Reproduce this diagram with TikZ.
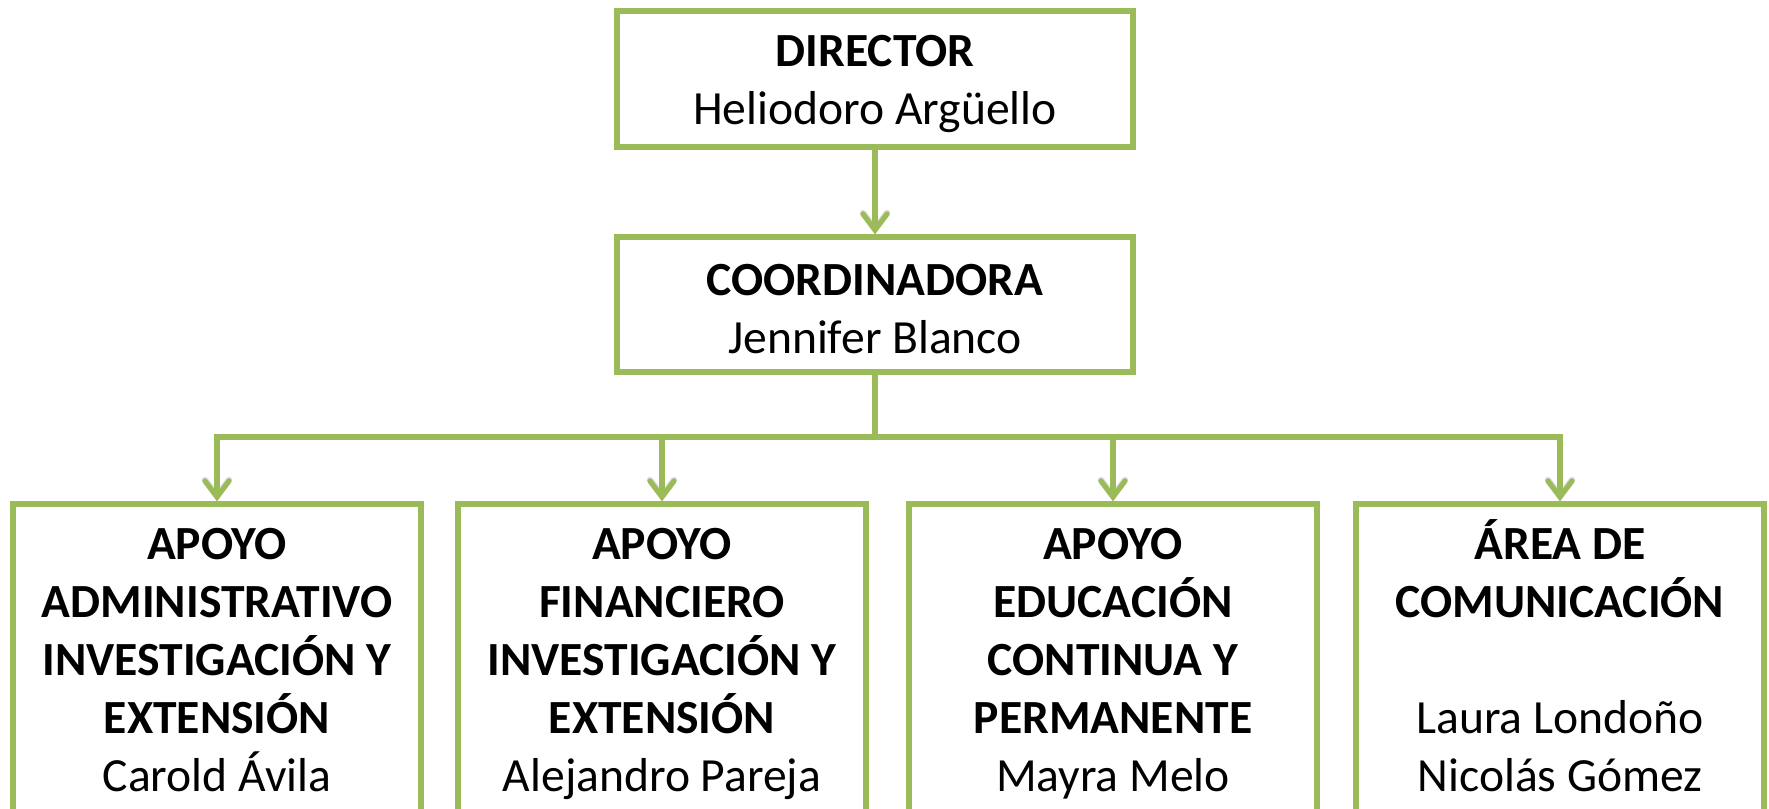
\documentclass[tikz,border=0pt]{standalone}
\usepackage{fontspec}
\setmainfont{Carlito}
\usetikzlibrary{arrows.meta}
\definecolor{ogreen}{HTML}{9BBB59}
\begin{document}
\begin{tikzpicture}[x=0.5pt,y=-0.5pt,
  box/.style={draw=ogreen,line width=2.7pt,minimum width=204pt,inner sep=0pt},
  txt/.style={anchor=north,align=center,inner sep=0pt,font=\fontsize{23.8pt}{29pt}\selectfont},
  conn/.style={draw=ogreen,line width=2.6pt,-{Straight Barb[length=8pt,width=12pt,line cap=round]}},
  shade/.style={draw=black!13,line width=3.2pt,shift={(3,5)},-{Straight Barb[length=8pt,width=12pt,line cap=round]}}]
\useasboundingbox (0,0) rectangle (1769,809);
\clip (0,0) rectangle (1769,809);
% boxes
\node[box,minimum width=258pt,minimum height=68pt] (dir) at (875,79) {};
\node[box,minimum width=258pt,minimum height=67.5pt] (coord) at (875,304.5) {};
\node[box,minimum height=200pt] (b1) at (217,704) {};
\node[box,minimum height=200pt] (b2) at (662,704) {};
\node[box,minimum height=200pt] (b3) at (1113,704) {};
\node[box,minimum height=200pt] (b4) at (1560,704) {};
\coordinate (bus) at (0,437);
% connector shadows
\draw[shade] (dir.south) -- (coord.north);
\foreach \b in {b1,b2,b3,b4}{
  \draw[shade] (coord.south) -- (coord.south |- bus) -| (\b.north);
}
% connectors
\draw[conn] (dir.south) -- (coord.north);
\foreach \b in {b1,b2,b3,b4}{
  \draw[conn] (coord.south) -- (coord.south |- bus) -| (\b.north);
}
% texts
\node[txt] (tdir) at (875,18) {\rule{0pt}{24pt}\textbf{DIRECTOR}\\Heliodoro Argüello};
\node[txt] (tcoord) at (875,247) {\rule{0pt}{24pt}\textbf{COORDINADORA}\\Jennifer Blanco};
\node[txt] (t1) at (217,511) {\rule{0pt}{24pt}\textbf{APOYO}\\\textbf{ADMINISTRATIVO}\\\textbf{INVESTIGACIÓN Y}\\\textbf{EXTENSIÓN}\\Carold Ávila};
\node[txt] (t2) at (662,511) {\rule{0pt}{24pt}\textbf{APOYO}\\\textbf{FINANCIERO}\\\textbf{INVESTIGACIÓN Y}\\\textbf{EXTENSIÓN}\\Alejandro Pareja};
\node[txt] (t3) at (1113,511) {\rule{0pt}{24pt}\textbf{APOYO}\\\textbf{EDUCACIÓN}\\\textbf{CONTINUA Y}\\\textbf{PERMANENTE}\\Mayra Melo};
\node[txt] (t4) at (1560,511) {\rule{0pt}{24pt}\textbf{ÁREA DE}\\\textbf{COMUNICACIÓN}\\\mbox{}\\Laura Londoño\\Nicolás Gómez};
\end{tikzpicture}
\end{document}
